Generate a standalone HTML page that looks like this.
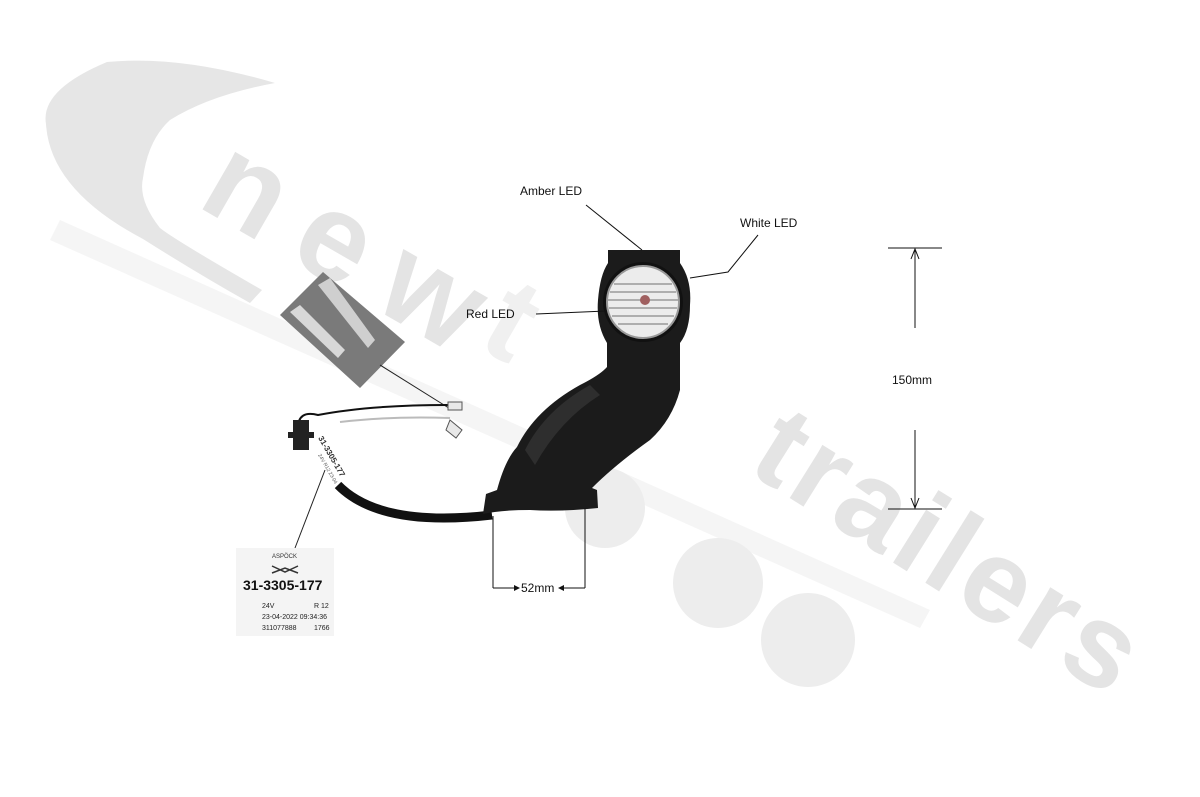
<!DOCTYPE html>
<html><head><meta charset="utf-8"><style>
html,body{margin:0;padding:0;background:#fff;}
svg{display:block;}
text{font-family:"Liberation Sans",sans-serif;}
</style></head><body>
<svg width="1200" height="797" viewBox="0 0 1200 797" xmlns="http://www.w3.org/2000/svg">
<!-- watermark -->
<path d="M60 220 L930 610 L920 628 L50 240Z" fill="#f5f5f5"/>
<path d="M275 83 Q180 55 107 62 Q40 90 46 124 Q50 190 143 239 Q200 275 250 303 L262 290 Q175 240 160 228 Q138 200 143 178 Q148 140 170 120 Q210 95 275 83Z" fill="#e6e6e6"/>
<circle cx="605" cy="508" r="40" fill="#ededed"/>
<circle cx="718" cy="583" r="45" fill="#ededed"/>
<circle cx="808" cy="640" r="47" fill="#ededed"/>
<text x="0" y="0" font-size="125" font-weight="bold" fill="#e4e4e4" transform="translate(195,205) rotate(30)" textLength="300" lengthAdjust="spacing">new</text>
<text x="0" y="0" font-size="120" font-weight="bold" fill="#f0f0f0" transform="translate(475,345) rotate(30)">t</text>
<text x="0" y="0" font-size="118" font-weight="bold" fill="#e4e4e4" transform="translate(745,470) rotate(32)" textLength="430" lengthAdjust="spacing">trailers</text>
<!-- connector photo -->
<polygon points="323,272 405,342 360,388 280,315" fill="#7a7a7a"/>
<polygon points="290,312 300,305 345,350 338,358" fill="#d8d8d8"/>
<polygon points="318,285 330,278 375,340 368,348" fill="#cfcfcf"/>
<line x1="380" y1="365" x2="452" y2="410" stroke="#222" stroke-width="1"/>
<!-- wires -->
<path d="M298 428 Q298 410 318 415 Q370 405 448 405" stroke="#111" stroke-width="2" fill="none"/>
<path d="M340 422 Q390 416 450 418" stroke="#bbb" stroke-width="2" fill="none"/>
<rect x="293" y="420" width="16" height="30" fill="#222"/>
<rect x="288" y="432" width="26" height="6" fill="#222"/>
<path d="M448 402 l14 0 l0 8 l-14 0z M450 420 l12 10 l-6 8 l-10 -8z" fill="#e8e8e8" stroke="#555"/>
<!-- small label -->
<text font-size="8" font-weight="bold" transform="translate(318,438) rotate(60)" fill="#333">31-3305-177</text>
<text font-size="5" transform="translate(318,455) rotate(60)" fill="#555">24V R12 23-04</text>
<!-- cable -->
<path d="M338 485 Q380 528 492 515" stroke="#111" stroke-width="9" fill="none"/>
<line x1="325" y1="470" x2="295" y2="548" stroke="#222" stroke-width="1"/>
<!-- label box -->
<rect x="236" y="548" width="98" height="88" fill="#f4f4f4"/>
<text x="272" y="558" font-size="6" fill="#333">ASPÖCK</text>
<path d="M272 566 l13 6 l13 -6 M272 573 l13 -5 l13 5" stroke="#333" stroke-width="1.5" fill="none"/>
<text x="243" y="590" font-size="14" font-weight="bold" fill="#111">31-3305-177</text>
<text x="262" y="608" font-size="7" fill="#222">24V</text><text x="314" y="608" font-size="7" fill="#222">R 12</text>
<text x="262" y="619" font-size="7" fill="#222">23-04-2022 09:34:36</text>
<text x="262" y="630" font-size="7" fill="#222">311077888</text><text x="314" y="630" font-size="7" fill="#222">1766</text>
<!-- lamp body -->
<path d="M608 250 L680 250 L680 263 Q692 280 690 305 Q690 330 680 343 L680 390 Q672 420 650 440 Q615 465 592 488 L597 490 L598 508 Q560 512 530 510 Q500 510 483 514 L486 494 L497 490 Q505 460 517 447 Q535 410 580 385 Q600 375 607 367 L607 343 Q596 325 598 300 Q600 275 608 263Z" fill="#1b1b1b"/>
<path d="M525 450 Q545 410 590 385 L600 395 Q560 420 535 465Z" fill="#2e2e2e"/>
<circle cx="643" cy="302" r="40" fill="#111"/>
<circle cx="643" cy="302" r="36" fill="#ececec" stroke="#999" stroke-width="2"/>
<g stroke="#9a9a9a" stroke-width="1.5">
<line x1="614" y1="284" x2="672" y2="284"/><line x1="610" y1="292" x2="676" y2="292"/>
<line x1="608" y1="300" x2="678" y2="300"/><line x1="609" y1="308" x2="677" y2="308"/>
<line x1="612" y1="316" x2="674" y2="316"/><line x1="618" y1="324" x2="668" y2="324"/>
</g>
<circle cx="645" cy="300" r="5" fill="#a06060"/>
<!-- callouts -->
<text x="520" y="195" font-size="12" fill="#111">Amber LED</text>
<line x1="586" y1="205" x2="642" y2="250" stroke="#111" stroke-width="1"/>
<text x="740" y="227" font-size="12" fill="#111">White LED</text>
<polyline points="758,235 728,272 690,278" stroke="#111" stroke-width="1" fill="none"/>
<text x="466" y="318" font-size="12" fill="#111">Red LED</text>
<line x1="536" y1="314" x2="606" y2="311" stroke="#111" stroke-width="1"/>
<!-- 52mm -->
<line x1="493" y1="516" x2="493" y2="588" stroke="#111"/>
<line x1="585" y1="508" x2="585" y2="588" stroke="#111"/>
<line x1="493" y1="588" x2="516" y2="588" stroke="#111"/>
<path d="M514 585 l6 3 l-6 3z" fill="#111"/>
<text x="521" y="592" font-size="12" fill="#111">52mm</text>
<line x1="562" y1="588" x2="585" y2="588" stroke="#111"/>
<path d="M564 585 l-6 3 l6 3z" fill="#111"/>
<!-- 150mm -->
<line x1="888" y1="248" x2="942" y2="248" stroke="#111"/>
<line x1="888" y1="509" x2="942" y2="509" stroke="#111"/>
<line x1="915" y1="249" x2="915" y2="328" stroke="#111"/>
<path d="M911 259 L915 249 L919 259" stroke="#111" fill="none"/>
<text x="892" y="384" font-size="12" fill="#111">150mm</text>
<line x1="915" y1="430" x2="915" y2="508" stroke="#111"/>
<path d="M911 498 L915 508 L919 498" stroke="#111" fill="none"/>
</svg>
</body></html>
